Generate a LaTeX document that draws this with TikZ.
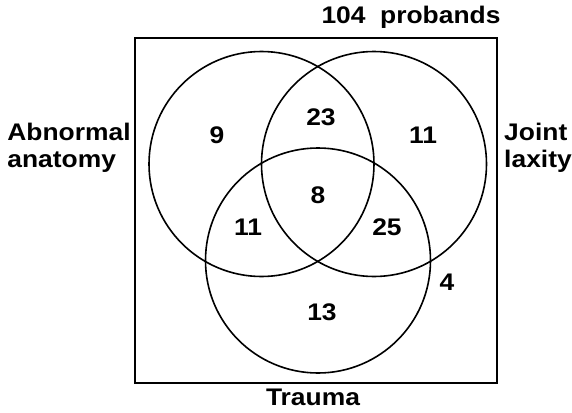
\documentclass[tikz,border=0pt]{standalone}
\usepackage{fontspec}
\setmainfont{Liberation Sans}[FakeStretch=1.1]
\usepackage{tikz}
\usetikzlibrary{positioning}

\begin{document}
\begin{tikzpicture}[
    x=0.75pt, y=0.75pt,
    ring/.style={circle, draw, line width=1.2pt, minimum size=168.75pt, inner sep=0pt},
    count/.style={font=\fontsize{18}{20}\selectfont\bfseries},
    setname/.style={font=\fontsize{18}{20}\selectfont\bfseries, align=left},
]

\useasboundingbox (0,0) rectangle (572,412);

% frame and the three sets
\draw[line width=1.2pt] (135,29) rectangle (497,374);
\node[ring] (anat) at (261.5,248) {};
\node[ring] (lax) at (374,248) {};
\node[ring] (trauma) at (318,151.5) {};

% counts
\node[count] (onlyanat) at (217,277) {9};
\node[count] (anatlax) at (321,295) {23};
\node[count] (onlylax) at (423,277) {11};
\node[count] (all) at (318,217) {8};
\node[count] (anattr) at (248,185) {11};
\node[count] (laxtr) at (387,185) {25};
\node[count] (onlytr) at (322,100) {13};
\node[count] (none) at (447,130) {4};

% set names
\node[setname] (total) at (411,395) {104\ \ probands};
\node[setname] (tname) at (313,15) {Trauma};
\node[setname] (aname) at (69,264) {Abnormal\\anatomy};
\node[setname] (lname) at (538,264) {Joint\\laxity};

\end{tikzpicture}
\end{document}
